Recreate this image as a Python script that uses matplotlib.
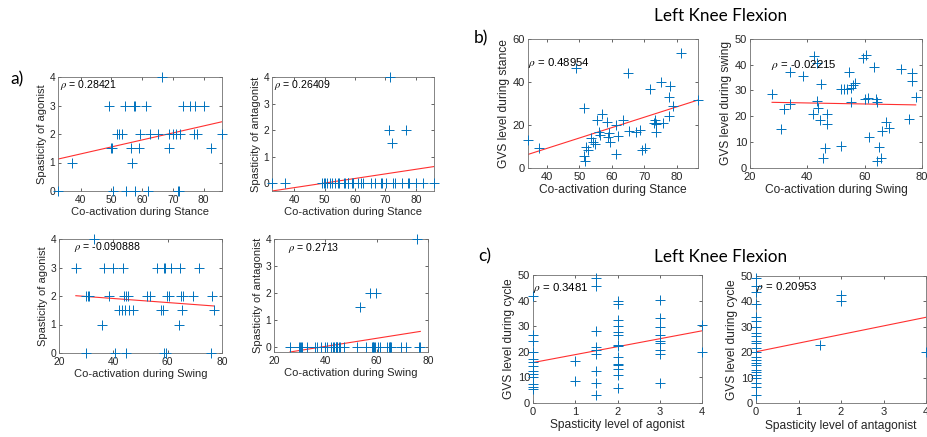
import matplotlib
matplotlib.use("Agg")
import matplotlib.pyplot as plt

# a) co-activation vs spasticity (stance)
coact_stance = [32.6, 37.0, 49.2, 49.8, 50.2, 50.6, 51.7, 52.5, 53.3, 54.4,
                54.7, 56.3, 56.6, 57.5, 57.8, 57.7, 59.1, 59.3, 61.1, 62.0,
                62.6, 65.3, 66.6, 68.6, 68.9, 70.2, 71.1, 72.4, 71.6, 72.1,
                73.2, 75.6, 77.3, 76.9, 77.8, 80.0, 82.4, 86.0]
spas_ag_stance = [0, 1, 3, 1.5, 1.5, 0, 2, 2, 2, 3,
                  0, 1.5, 1, 3, 3, 0, 1.5, 2, 3, 0,
                  2, 2, 4, 1.5, 2, 2, 2, 2, 0, 0,
                  3, 3, 3, 2, 2, 3, 1.5, 2]
spas_antag_stance = [0, 0, 0, 0, 0, 0, 0, 0, 0, 0,
                     0, 0, 0, 0, 0, 0, 0, 0, 0, 0,
                     0, 0, 0, 0, 0, 0, 2, 0, 4, 1.5,
                     0, 0, 0, 2, 0, 0, 0, 0]

# a) co-activation vs spasticity (swing)
coact_swing = [26.2, 29.9, 30.0, 30.5, 31.0, 33.0, 36.0, 36.7, 38.5, 40.0,
               40.6, 42.1, 43.1, 43.5, 44.0, 44.3, 44.6, 44.7, 45.3, 45.8,
               47.4, 52.3, 53.6, 56.0, 57.5, 58.1, 58.5, 58.6, 59.0, 59.4,
               59.8, 60.6, 61.2, 64.0, 64.7, 65.0, 65.3, 65.5, 69.3, 71.5,
               75.8, 76.4, 77.0]
spas_ag_swing = [3, 0, 2, 2, 2, 4, 1, 3, 2, 3,
                 0, 1.5, 1.5, 3, 2, 1.5, 0, 2, 2, 1.5,
                 1.5, 2, 2, 3, 1.5, 1.5, 3, 0, 3, 0,
                 2, 2, 3, 1, 3, 2, 1.5, 2, 2, 3,
                 0, 2, 1.5]
spas_antag_swing = [0, 0, 0, 0, 0, 0, 0, 0, 0, 0,
                    0, 0, 0, 0, 0, 0, 0, 0, 0, 0,
                    0, 0, 1.5, 0, 2, 0, 0, 0, 0, 0,
                    2, 0, 0, 0, 0, 0, 0, 0, 0, 0,
                    4, 0, 0]

# b) co-activation vs GVS
gvs_coact_stance = [34.1, 37.4, 48.9, 51.4, 51.3, 51.6, 52.0, 52.7, 53.7, 54.2,
                    54.7, 55.3, 56.8, 56.1, 56.3, 58.4, 58.7, 59.4, 59.2, 61.2,
                    61.4, 61.8, 63.5, 65.1, 65.4, 67.6, 68.7, 69.4, 70.2, 71.8,
                    73.0, 73.3, 73.5, 73.6, 75.2, 75.9, 77.6, 77.7, 77.9, 79.0,
                    81.5, 86.6]
gvs_stance = [12.8, 8.9, 46.3, 27.9, 5.3, 3.0, 9.7, 8.1, 13.6, 12.0,
              11.2, 22.1, 25.2, 16.7, 15.1, 21.3, 14.3, 12.0, 15.9, 6.2,
              19.8, 14.6, 22.4, 43.9, 17.0, 16.7, 17.5, 8.4, 9.2, 36.5,
              21.0, 22.1, 20.1, 16.7, 40.0, 21.0, 24.0, 33.0, 38.0, 28.7,
              53.3, 31.5]
gvs_coact_swing = [27.7, 30.9, 32.0, 33.8, 33.8, 38.5, 42.0, 42.3, 43.2, 43.5,
                   43.7, 44.3, 44.9, 46.1, 45.5, 46.7, 47.0, 51.6, 51.9, 52.9,
                   53.9, 54.5, 55.2, 55.2, 56.0, 56.6, 59.5, 60.4, 60.1, 61.3,
                   61.5, 63.4, 63.9, 64.2, 64.4, 65.0, 65.7, 66.0, 67.4, 68.5,
                   72.7, 75.3, 76.5, 76.5, 77.8]
gvs_swing = [28.5, 14.9, 22.8, 37.0, 24.6, 35.6, 20.9, 43.4, 40.5, 25.9,
             23.3, 18.7, 32.4, 7.8, 3.9, 20.7, 16.8, 8.4, 30.4, 30.4,
             30.4, 37.0, 25.6, 31.1, 32.1, 33.0, 42.5, 43.8, 26.6, 27.2,
             12.0, 39.2, 26.6, 25.6, 2.6, 8.2, 3.9, 14.2, 17.9, 15.5,
             38.2, 18.9, 36.9, 33.8, 27.6]

# c) spasticity level vs GVS over the whole cycle
spas_level_ag = [0] * 13 + [1] * 2 + [1.5] * 9 + [2] * 14 + [3] * 9 + [4] * 2
gvs_cycle_ag = [41.8, 26.5, 24.3, 20.0, 17.0, 16.0, 14.4, 12.4, 11.2, 10.2, 7.6, 6.3, 5.4,
                16.4, 8.6,
                48.7, 45.7, 28.1, 21.7, 20.6, 19.1, 12.5, 7.8, 3.0,
                40.0, 38.6, 32.6, 30.0, 27.8, 26.5, 22.6, 22.2, 17.8, 15.4, 14.8, 13.1, 10.8, 5.9,
                40.2, 33.3, 29.5, 26.5, 24.3, 23.6, 20.6, 19.1, 7.8,
                30.4, 20.0]
spas_level_antag = [0] * 24 + [1.5] + [2] * 2 + [4]
gvs_cycle_antag = [49.0, 46.0, 43.5, 38.9, 33.7, 32.4, 30.0, 27.7, 26.4, 24.4, 23.5, 21.5,
                   20.2, 18.3, 17.0, 15.9, 15.0, 13.0, 12.4, 11.1, 9.8, 7.8, 6.5, 3.3,
                   22.8,
                   42.4, 40.2,
                   20.2]

# least-squares lines (y at the ends of the data range)
fit_ag_stance = [1.12, 2.43]
fit_antag_stance = [-0.29, 0.63]
fit_ag_swing = [2.01, 1.65]
fit_antag_swing = [-0.17, 0.59]
fit_gvs_stance = [6.1, 31.5]
fit_gvs_swing = [25.4, 24.4]
fit_cycle_ag = [15.8, 28.2]
fit_cycle_antag = [20.2, 33.7]

rho_labels = ["0.28421", "0.26409", "-0.090888", "0.2713",
              "0.48954", "-0.02215", "0.3481", "0.20953"]

W, H = 927, 437
BLUE = "#0072BD"
DARK = "#262626"

plt.rcParams["font.family"] = ["Liberation Sans", "DejaVu Sans"]
plt.rcParams["mathtext.fontset"] = "stix"

fig = plt.figure(figsize=(W / 100, H / 100), dpi=100)


def add_axes(left, right, top, bottom):
    return fig.add_axes([left / W, 1 - bottom / H, (right - left) / W, (bottom - top) / H])


def draw_panel(ax, x, y, fit, xlim, ylim, xticks, yticks, xlabel, ylabel, rho, rho_pos, fs):
    ax.plot(x, y, linestyle="none", marker="+", color=BLUE, markersize=7, markeredgewidth=0.7,
            clip_on=False, zorder=3)
    ax.plot([min(x), max(x)], fit, color="#ff3030", linewidth=0.8, zorder=2)
    ax.set_xlim(*xlim)
    ax.set_ylim(min(ylim[0], fit[0], fit[1]), ylim[1])
    ax.set_xticks(xticks)
    ax.set_yticks(yticks)
    ax.tick_params(direction="in", length=2.5, width=0.5, colors=DARK, labelsize=fs,
                   top=True, right=True, pad=2)
    ax.tick_params(axis="x", pad=3)
    for s in ax.spines.values():
        s.set_linewidth(0.6)
        s.set_color("#707070")
    ax.set_xlabel(xlabel, fontsize=fs * 1.08, color=DARK, labelpad=1.5)
    ax.set_ylabel(ylabel, fontsize=fs * 1.08, color=DARK, labelpad=2)
    ax.text(rho_pos[0], rho_pos[1], r"$\rho$ = " + rho, transform=ax.transAxes,
            fontsize=fs * 1.02, color="black", ha="left", va="center")


fs_a = 7.4
fs_bc = 8.0

ax = add_axes(58, 222, 77, 191)
draw_panel(ax, coact_stance, spas_ag_stance, fit_ag_stance, (min(coact_stance), max(coact_stance)),
           (0, 4), range(40, 81, 10), range(0, 5), "Co-activation during Stance",
           "Spasticity of agonist", rho_labels[0], (0.01, 0.93), fs_a)

ax = add_axes(272, 434, 77, 191)
draw_panel(ax, coact_stance, spas_antag_stance, fit_antag_stance,
           (min(coact_stance), max(coact_stance)), (0, 4), range(40, 81, 10), range(0, 5),
           "Co-activation during Stance", "Spasticity of antagonist", rho_labels[1], (0.01, 0.93), fs_a)

ax = add_axes(59, 222, 239, 353)
draw_panel(ax, coact_swing, spas_ag_swing, fit_ag_swing, (20, 80), (0, 4), range(20, 81, 20),
           range(0, 5), "Co-activation during Swing", "Spasticity of agonist", rho_labels[2],
           (0.09, 0.93), fs_a)

ax = add_axes(274, 428, 239, 352)
draw_panel(ax, coact_swing, spas_antag_swing, fit_antag_swing, (20, 80), (0, 4), range(20, 81, 20),
           range(0, 5), "Co-activation during Swing", "Spasticity of antagonist", rho_labels[3],
           (0.09, 0.92), fs_a)

ax = add_axes(528, 698, 39, 167.5)
draw_panel(ax, gvs_coact_stance, gvs_stance, fit_gvs_stance,
           (min(gvs_coact_stance), max(gvs_coact_stance)), (0, 60), range(40, 81, 10),
           range(0, 61, 20), "Co-activation during Stance", "GVS level during stance",
           rho_labels[4], (0.0, 0.815), fs_bc)

ax = add_axes(750, 922, 39, 167.7)
draw_panel(ax, gvs_coact_swing, gvs_swing, fit_gvs_swing, (20, 80), (0, 50), range(20, 81, 20),
           range(0, 51, 10), "Co-activation during Swing", "GVS level during swing",
           rho_labels[5], (0.12, 0.80), fs_bc)

ax = add_axes(533, 702, 275, 403)
draw_panel(ax, spas_level_ag, gvs_cycle_ag, fit_cycle_ag, (0, 4), (0, 50), range(0, 5),
           range(0, 51, 10), "Spasticity level of agonist", "GVS level during cycle",
           rho_labels[6], (0.0, 0.90), fs_bc)

ax = add_axes(756, 926, 275.7, 403.3)
draw_panel(ax, spas_level_antag, gvs_cycle_antag, fit_cycle_antag, (0, 4), (0, 50), range(0, 5),
           range(0, 51, 10), "Spasticity level of antagonist", "GVS level during cycle",
           rho_labels[7], (0.0, 0.91), fs_bc)

# panel letters and titles (PowerPoint-style text)
ppt_font = ["Lato", "DejaVu Sans"]
fig.text(16.7 / W, 1 - 79 / H, "a)", fontsize=12.5, family=ppt_font, ha="center", va="center")
fig.text(480.5 / W, 1 - 38 / H, "b)", fontsize=12.5, family=ppt_font, ha="center", va="center")
fig.text(485 / W, 1 - 256.5 / H, "c)", fontsize=12.5, family=ppt_font, ha="center", va="center")
fig.text(654 / W, 1 - 16 / H, "Left Knee Flexion", fontsize=12.3, family=ppt_font,
         ha="left", va="center")
fig.text(654 / W, 1 - 257 / H, "Left Knee Flexion", fontsize=12.3, family=ppt_font,
         ha="left", va="center")

fig.savefig("out.png", dpi=100)
